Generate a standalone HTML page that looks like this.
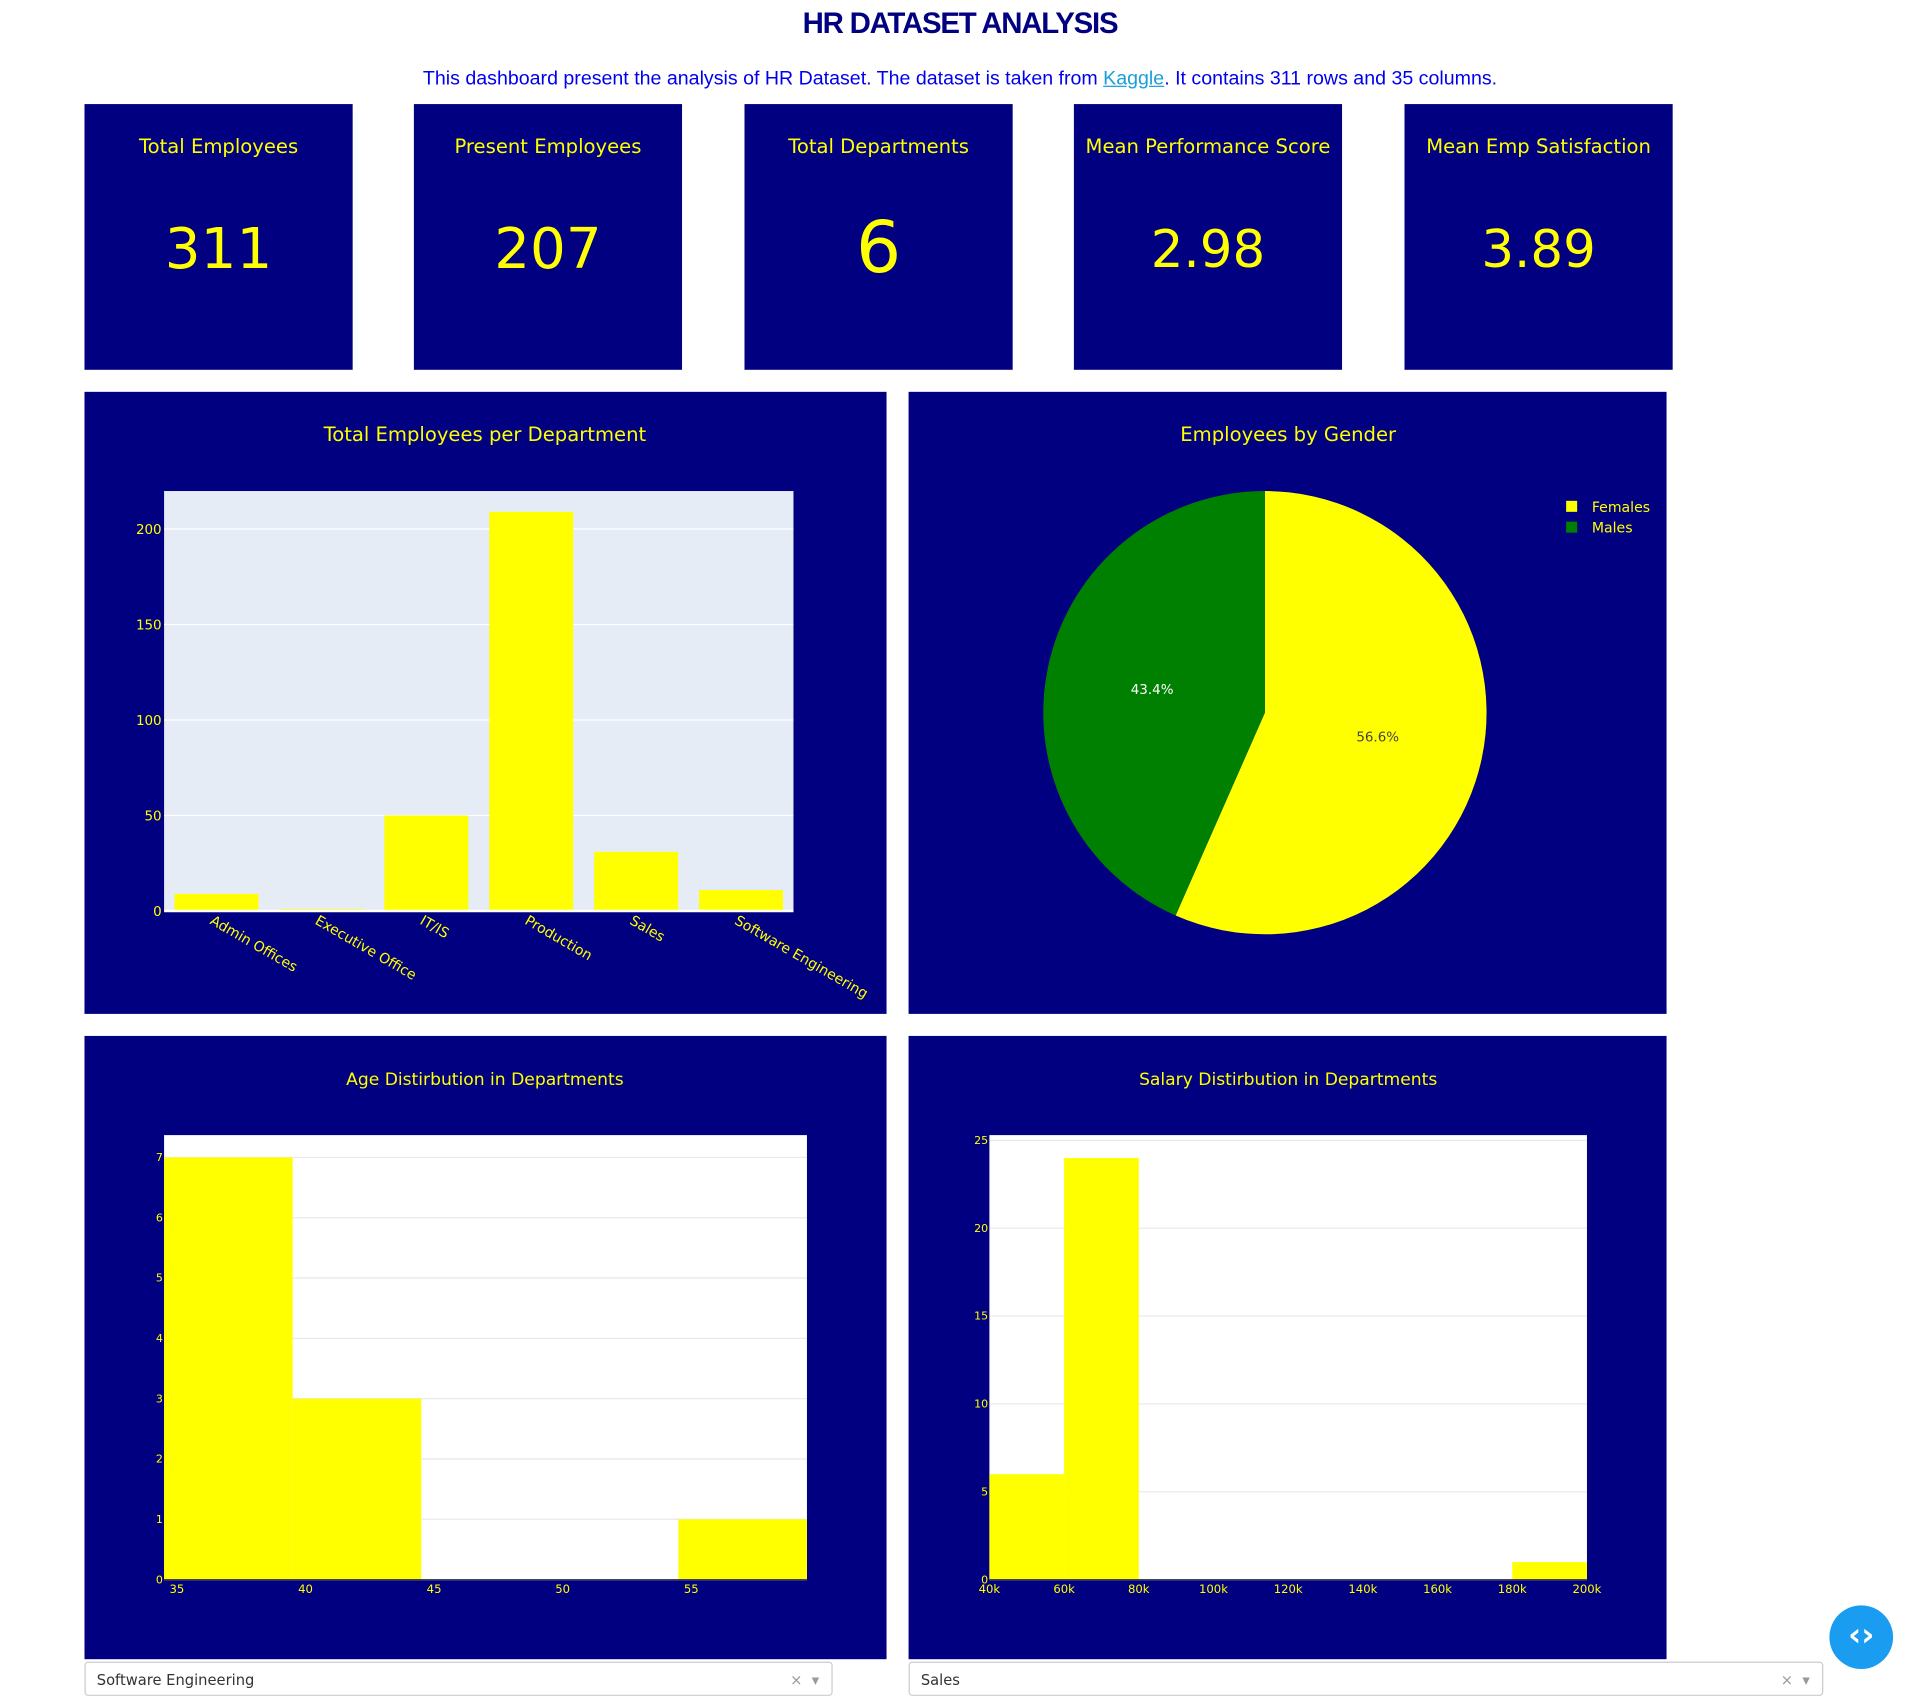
<!DOCTYPE html>
<html><head><meta charset="utf-8">
<style>
html,body{margin:0;padding:0;background:#fff;overflow:hidden;width:1920px;height:1704px}
#wrap{position:absolute;left:0;top:0;width:1568px;height:1392px;transform:scale(1.2245);transform-origin:0 0}
.abs{position:absolute}
h1{position:absolute;left:0;width:1568px;top:6px;margin:0;text-align:center;font:bold 24px "Liberation Sans",sans-serif;color:#000080;letter-spacing:-1px}
.sub{position:absolute;left:0;width:1568px;top:56px;text-align:center;font:16px "Liberation Sans",sans-serif;color:#0000ee}
.sub a{color:#1a9fd8;text-decoration:underline}
.card{position:absolute;top:85px;width:219px;height:217px;background:#000080;color:#ffff00;font-family:"DejaVu Sans",sans-serif;text-align:center}
.card .t{position:absolute;top:25px;left:0;width:100%;font-size:16px}
.card .v{position:absolute;top:91px;left:0;width:100%;font-size:46px}
.dd{position:absolute;top:1357px;height:28px;background:#fff;border:1px solid #ccc;border-radius:3px;font:12px "DejaVu Sans",sans-serif;color:#333;box-sizing:border-box}
.dd span{position:absolute;top:7px}
svg text{font-family:"DejaVu Sans",sans-serif}
</style></head>
<body>
<div id="wrap">
<h1>HR DATASET ANALYSIS</h1>
<div class="sub">This dashboard present the analysis of HR Dataset. The dataset is taken from <a>Kaggle</a>. It contains 311 rows and 35 columns.</div>

<div class="card" style="left:69px"><div class="t">Total Employees</div><div class="v">311</div></div>
<div class="card" style="left:338px"><div class="t">Present Employees</div><div class="v">207</div></div>
<div class="card" style="left:608px"><div class="t">Total Departments</div><div class="v" style="font-size:58px;top:83px">6</div></div>
<div class="card" style="left:877px"><div class="t">Mean Performance Score</div><div class="v" style="font-size:42px;top:94px">2.98</div></div>
<div class="card" style="left:1147px"><div class="t">Mean Emp Satisfaction</div><div class="v" style="font-size:42px;top:94px">3.89</div></div>

<svg class="abs" style="left:0;top:0" width="1568" height="1392" id="charts">
<rect x="69" y="320" width="655" height="508" fill="#000080"/>
<rect x="742" y="320" width="619" height="508" fill="#000080"/>
<rect x="69" y="846" width="655" height="509" fill="#000080"/>
<rect x="742" y="846" width="619" height="509" fill="#000080"/>
<text x="396" y="360" fill="#ffff00" font-size="16" text-anchor="middle">Total Employees per Department</text>
<text x="1052" y="360" fill="#ffff00" font-size="16" text-anchor="middle">Employees by Gender</text>
<text x="396" y="886" fill="#ffff00" font-size="14" text-anchor="middle">Age Distirbution in Departments</text>
<text x="1052" y="886" fill="#ffff00" font-size="14" text-anchor="middle">Salary Distirbution in Departments</text>
<g id="g1"></g><g id="g2"></g><g id="g3"></g><g id="g4"></g>
</svg>

<div class="dd" style="left:69px;width:611px"><span style="left:9px">Software Engineering</span><span style="right:10px;color:#999">×&nbsp; ▾</span></div>
<div class="dd" style="left:742px;width:747px"><span style="left:9px">Sales</span><span style="right:10px;color:#999">×&nbsp; ▾</span></div>
<div class="abs" style="left:1494px;top:1311px;width:52px;height:52px;border-radius:50%;background:#1a9cf0;color:#fff;font:bold 26px 'DejaVu Sans',sans-serif;text-align:center;line-height:50px">‹›</div>
</div>

<script>
const deptCategories=["Admin Offices","Executive Office","IT/IS","Production","Sales","Software Engineering"];
const deptCounts=[9,1,50,209,31,11];
const deptTicks=[0,50,100,150,200];
const genderLabels=["Females","Males"];
const genderShares=[56.6,43.4];
const ageBinStarts=[34.5,39.5,44.5,49.5,54.5];
const ageCounts=[7,3,0,0,1];
const ageXTicks=[35,40,45,50,55];
const ageYTicks=[0,1,2,3,4,5,6,7];
const salaryBinStarts=[40000,60000,80000,100000,120000,140000,160000,180000];
const salaryCounts=[6,24,0,0,0,0,0,1];
const salaryXTicks=[40000,60000,80000,100000,120000,140000,160000,180000,200000];
const salaryYTicks=[0,5,10,15,20,25];

const NS="http://www.w3.org/2000/svg";
function mk(parent,tag,attrs,txt){const e=document.createElementNS(NS,tag);for(const k in attrs)e.setAttribute(k,attrs[k]);if(txt!==undefined)e.textContent=txt;parent.appendChild(e);return e;}
function lin(d0,d1,r0,r1){return v=>r0+(v-d0)/(d1-d0)*(r1-r0);}

(function(){
 const g=document.getElementById('g1');
 const L=134,R=648,T=401,B=744;
 const y=lin(0,219.9,B,T);
 mk(g,'rect',{x:L,y:T,width:R-L,height:B-T,fill:'#e5ecf6'});
 deptTicks.forEach(t=>{
  if(t>0){const gl=mk(g,'line',{x1:L,x2:R,y1:y(t),y2:y(t),stroke:'#fff','stroke-width':1});
  
  }
  const tl=mk(g,'text',{x:L-2,y:y(t)+4,fill:'#ffff00','font-size':11,'text-anchor':'end'},t);
  
  
 });
 const bw=(R-L)/deptCategories.length;
 deptCategories.forEach((c,i)=>{
  const x0=L+i*bw+bw*0.1;
  const b=mk(g,'rect',{x:x0,y:y(deptCounts[i]),width:bw*0.8,height:B-y(deptCounts[i]),fill:'#ffff00'});
  
  
  const cx=L+i*bw+bw/2;
  const t=mk(g,'text',{x:cx-6,y:B+10,fill:'#ffff00','font-size':11.5,transform:'rotate(30 '+(cx-6)+' '+(B+10)+')'},c);
  
  
 });
 mk(g,'line',{x1:L,x2:R,y1:B,y2:B,stroke:'#fff','stroke-width':2});
})();

(function(){
 const g=document.getElementById('g2');
 const cx=1033,cy=582,r=181;
 const cols=['#ffff00','#008000'];
 const total=genderShares.reduce((a,b)=>a+b,0);
 let a0=0;
 genderShares.forEach((v,i)=>{
  const a1=a0+v/total*2*Math.PI;
  const p=(a)=>[cx+r*Math.sin(a),cy-r*Math.cos(a)];
  const s=p(a0),e=p(a1);
  const large=(a1-a0)>Math.PI?1:0;
  const path=mk(g,'path',{d:`M${cx},${cy}L${s[0]},${s[1]}A${r},${r} 0 ${large} 1 ${e[0]},${e[1]}Z`,fill:cols[i]});
  
  
  const m=(a0+a1)/2,lr=r*0.52;
  const lt=mk(g,'text',{x:cx+lr*Math.sin(m),y:cy-lr*Math.cos(m)+4,fill:i==0?'#444':'#fff','font-size':11,'text-anchor':'middle'},v.toFixed(1)+'%');
  
  
  const lg=mk(g,'rect',{x:1279,y:409+i*17,width:9,height:9,fill:cols[i]});
  
  
  const lx=mk(g,'text',{x:1300,y:418+i*17,fill:'#ffff00','font-size':11.5},genderLabels[i]);
  
  
  a0=a1;
 });
})();

function hist(gid,L,R,T,B,xd0,xd1,ymax,starts,binW,counts,xt,yt,fmt,nm){
 const g=document.getElementById(gid);
 const x=lin(xd0,xd1,L,R),y=lin(0,ymax,B,T);
 mk(g,'rect',{x:L,y:T,width:R-L,height:B-T,fill:'#fff'});
 yt.forEach(t=>{
  const gl=mk(g,'line',{x1:L,x2:R,y1:y(t),y2:y(t),stroke:'#e8e8ee','stroke-width':1});
  
  
  const tl=mk(g,'text',{x:L-1,y:y(t)+3,fill:'#ffff00','font-size':9,'text-anchor':'end'},t);
  
  
 });
 starts.forEach((s,i)=>{
  if(counts[i]<=0)return;
  const b=mk(g,'rect',{x:x(s),y:y(counts[i]),width:x(s+binW)-x(s),height:B-y(counts[i]),fill:'#ffff00'});
  
  
 });
 xt.forEach(t=>{
  const tl=mk(g,'text',{x:x(t),y:B+11,fill:'#ffff00','font-size':9.5,'text-anchor':'middle'},fmt(t));
  
  
 });
 mk(g,'line',{x1:L,x2:R,y1:B,y2:B,stroke:'#444','stroke-width':1});
}
hist('g3',134,659,927,1290,34.5,59.5,7.37,ageBinStarts,5,ageCounts,ageXTicks,ageYTicks,t=>t,'age');
hist('g4',808,1296,927,1290,40000,200000,25.3,salaryBinStarts,20000,salaryCounts,salaryXTicks,salaryYTicks,t=>(t/1000)+'k','salary');
</script>
</body></html>
